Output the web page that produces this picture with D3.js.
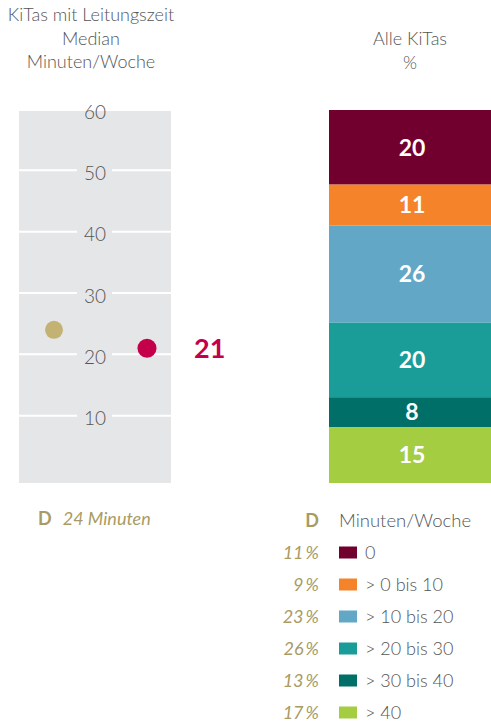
<!DOCTYPE html>
<html>
<head>
<meta charset="utf-8">
<script src="https://cdn.jsdelivr.net/npm/d3@7"></script>
<style>
  body { margin: 0; background: #fff; }
  svg text { font-family: Lato, "Open Sans", sans-serif; }
  .light { font-weight: 300; fill: #555; }
  .gold { fill: #a99b63; }
</style>
</head>
<body>
<div id="chart"></div>
<script>
// left panel: median minutes per week
var medianTicks = [10, 20, 30, 40, 50, 60];
var medianAll = 24;      // D (Deutschland)
var medianKita = 21;     // KiTas mit Leitungszeit

// right panel: share of all KiTas (%)
var categories = ["0", "> 0 bis 10", "> 10 bis 20", "> 20 bis 30", "> 30 bis 40", "> 40"];
var shares = [20, 11, 26, 20, 8, 15];
var sharesD = [11, 9, 23, 26, 13, 17];
var colors = ["#72002f", "#f5832a", "#62a8c6", "#1a9d98", "#006f67", "#a4cd42"];

var width = 491, height = 725;

var svg = d3.select("#chart").append("svg")
    .attr("width", width)
    .attr("height", height);

// headers
var leftHead = ["KiTas mit Leitungszeit", "Median", "Minuten/Woche"];
svg.selectAll("text.lhead")
    .data(leftHead)
    .enter().append("text")
    .attr("class", "lhead light")
    .attr("x", 91)
    .attr("y", function (d, i) { return 21 + i * 23.5; })
    .attr("text-anchor", "middle")
    .attr("font-size", 18)
    .text(function (d) { return d; });

svg.selectAll("text.rhead")
    .data(["Alle KiTas", "%"])
    .enter().append("text")
    .attr("class", "rhead light")
    .attr("x", 410)
    .attr("y", function (d, i) { return 45 + i * 23.5; })
    .attr("text-anchor", "middle")
    .attr("font-size", 18)
    .text(function (d) { return d; });

// ---- left panel ----
var y = d3.scaleLinear().domain([0, 60]).range([477, 109]);

svg.append("rect")
    .attr("x", 19).attr("y", 111)
    .attr("width", 152).attr("height", 372)
    .attr("fill", "#e5e6e8");

var grid = svg.append("g");
grid.selectAll("line.gl")
    .data(medianTicks.filter(function (d) { return d < 60; }))
    .enter().append("line")
    .attr("x1", 19).attr("x2", 77)
    .attr("y1", function (d) { return y(d); })
    .attr("y2", function (d) { return y(d); })
    .attr("stroke", "#fff").attr("stroke-width", 2);
grid.selectAll("line.gr")
    .data(medianTicks.filter(function (d) { return d < 60; }))
    .enter().append("line")
    .attr("x1", 112).attr("x2", 171)
    .attr("y1", function (d) { return y(d); })
    .attr("y2", function (d) { return y(d); })
    .attr("stroke", "#fff").attr("stroke-width", 2);

grid.selectAll("text.tick")
    .data(medianTicks)
    .enter().append("text")
    .attr("class", "tick light")
    .attr("x", 95)
    .attr("y", function (d) { return y(d); })
    .attr("dy", "0.5em")
    .attr("text-anchor", "middle")
    .attr("font-size", 19)
    .text(function (d) { return d; });

svg.append("circle")
    .attr("cx", 54).attr("cy", y(medianAll))
    .attr("r", 9).attr("fill", "#c4b274");

svg.append("circle")
    .attr("cx", 147).attr("cy", y(medianKita))
    .attr("r", 9.5).attr("fill", "#c4004b");

svg.append("text")
    .attr("x", 194).attr("y", y(medianKita))
    .attr("dy", "0.36em")
    .attr("font-size", 27).attr("font-weight", 700)
    .attr("fill", "#c4004b")
    .text(medianKita);

// D 24 Minuten
var dLeft = svg.append("text").attr("x", 38).attr("y", 525).attr("font-size", 18);
dLeft.append("tspan").attr("class", "gold").attr("font-weight", 700).text("D");
dLeft.append("tspan").attr("class", "gold").attr("dx", 11).attr("font-style", "italic")
    .attr("font-weight", 400).text(medianAll + " Minuten");

// ---- right panel: stacked bar ----
var stackY = d3.scaleLinear().domain([0, d3.sum(shares)]).range([110, 483]);
var cum = 0;
var segs = shares.map(function (v, i) {
    var s = {start: cum, end: cum + v, value: v, color: colors[i]};
    cum += v;
    return s;
});

svg.selectAll("rect.seg")
    .data(segs)
    .enter().append("rect")
    .attr("class", "seg")
    .attr("x", 329)
    .attr("width", 162)
    .attr("y", function (d) { return stackY(d.start); })
    .attr("height", function (d) { return stackY(d.end) - stackY(d.start); })
    .attr("fill", function (d) { return d.color; });

svg.selectAll("text.seglabel")
    .data(segs)
    .enter().append("text")
    .attr("class", "seglabel")
    .attr("x", 412)
    .attr("y", function (d) { return (stackY(d.start) + stackY(d.end)) / 2; })
    .attr("dy", "0.36em")
    .attr("text-anchor", "middle")
    .attr("font-size", 23).attr("font-weight", 700)
    .attr("fill", "#fff")
    .text(function (d) { return d.value; });

// legend
svg.append("text")
    .attr("class", "gold")
    .attr("x", 319).attr("y", 527)
    .attr("text-anchor", "end")
    .attr("font-size", 18).attr("font-weight", 700)
    .text("D");
svg.append("text")
    .attr("class", "light")
    .attr("x", 339).attr("y", 527)
    .attr("font-size", 18.5)
    .text("Minuten/Woche");

var legY = d3.scalePoint().domain(categories).range([552.5, 712.5]);

var leg = svg.selectAll("g.leg")
    .data(categories)
    .enter().append("g")
    .attr("class", "leg")
    .attr("transform", function (d) { return "translate(0," + legY(d) + ")"; });

leg.append("text")
    .attr("class", "gold")
    .attr("x", 319)
    .attr("dy", "0.36em")
    .attr("text-anchor", "end")
    .attr("font-size", 18).attr("font-style", "italic")
    .text(function (d, i) { return sharesD[i] + "\u2009%"; });

leg.append("rect")
    .attr("x", 339).attr("y", -6)
    .attr("width", 18).attr("height", 12)
    .attr("fill", function (d, i) { return colors[i]; });

leg.append("text")
    .attr("class", "light")
    .attr("x", 365)
    .attr("dy", "0.36em")
    .attr("font-size", 18)
    .text(function (d) { return d; });
</script>
</body>
</html>
